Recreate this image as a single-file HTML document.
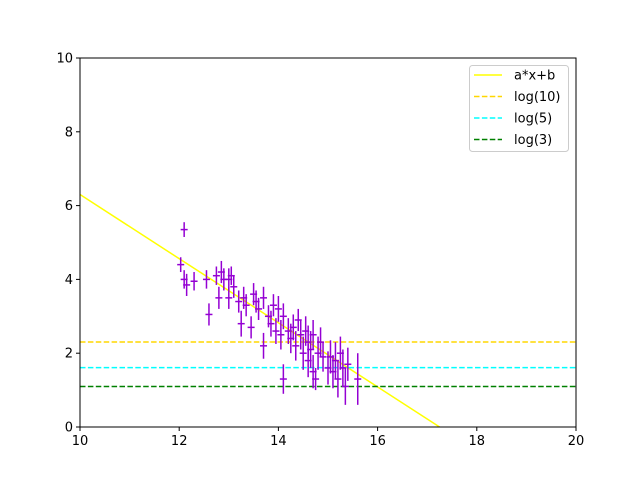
<!DOCTYPE html>
<html><head><meta charset="utf-8"><style>
html,body{margin:0;padding:0;background:#fff;width:640px;height:480px;overflow:hidden}
svg{display:block;font-family:"DejaVu Sans","Liberation Sans",sans-serif}
</style></head><body>
<svg id="chart" width="640" height="480" viewBox="0 0 640 480" xmlns="http://www.w3.org/2000/svg">
<rect width="640" height="480" fill="#fff"/>
<g id="plot"></g>
<g id="axes"></g>
<g id="legend"></g>
</svg>
<script>
const xs=[12.03,12.1,12.1,12.15,12.3,12.55,12.6,12.75,12.8,12.85,12.9,13.0,13.0,13.05,13.1,13.2,13.25,13.3,13.35,13.45,13.5,13.55,13.6,13.7,13.7,13.8,13.85,13.9,13.95,14.0,14.05,14.1,14.1,14.2,14.25,14.3,14.35,14.4,14.45,14.5,14.55,14.6,14.6,14.65,14.7,14.7,14.75,14.8,14.85,14.9,15.0,15.05,15.1,15.15,15.2,15.25,15.3,15.35,15.4,15.6];
const ys=[4.4,5.35,4.0,3.85,3.95,4.0,3.05,4.1,3.5,4.2,4.0,3.5,4.0,4.1,3.8,3.4,2.8,3.5,3.3,2.7,3.6,3.4,3.2,2.2,3.5,3.0,2.8,3.3,2.6,3.2,2.5,1.3,3.0,2.6,2.4,2.7,2.2,2.9,2.5,2.0,2.6,2.3,1.8,2.1,1.5,2.5,1.3,2.0,2.3,1.9,1.6,1.9,1.5,1.8,1.3,2.0,1.6,1.1,1.7,1.3];
const errs=[0.2,0.2,0.25,0.3,0.25,0.25,0.3,0.25,0.3,0.3,0.3,0.3,0.3,0.25,0.3,0.3,0.35,0.3,0.3,0.3,0.3,0.3,0.3,0.35,0.3,0.3,0.35,0.3,0.35,0.35,0.4,0.4,0.35,0.35,0.4,0.35,0.4,0.3,0.4,0.45,0.4,0.45,0.45,0.5,0.45,0.4,0.3,0.45,0.4,0.4,0.45,0.45,0.45,0.5,0.5,0.45,0.5,0.5,0.45,0.7];
const fitA=-0.869, fitB=14.99;
const hNames=["log(10)","log(5)","log(3)"];
const hVals=[2.303,1.609,1.099];
const hColors=["#ffd700","#00ffff","#008000"];
const xTicks=[10,12,14,16,18,20];
const yTicks=[0,2,4,6,8,10];
const NS="http://www.w3.org/2000/svg";
const X0=80,X1=576,Y0=427,Y1=58;
const sx=v=>X0+(v-10)/10*(X1-X0);
const sy=v=>Y0-(v-0)/10*(Y0-Y1);
function mk(t,a,p){const e=document.createElementNS(NS,t);for(const k in a)e.setAttribute(k,a[k]);p.appendChild(e);return e;}
const plot=document.getElementById('plot'),axes=document.getElementById('axes'),leg=document.getElementById('legend');
mk('defs',{},plot).innerHTML='<clipPath id="cp"><rect x="80" y="58" width="496" height="369"/></clipPath>';
const g=mk('g',{'clip-path':'url(#cp)'},plot);
let l=mk('line',{x1:sx(10),y1:sy(fitA*10+fitB),x2:sx(20),y2:sy(fitA*20+fitB),stroke:'#ffff00','stroke-width':1.5},g);


hVals.forEach((v,i)=>{
  const h=mk('line',{x1:X0,x2:X1,y1:sy(v),y2:sy(v),stroke:hColors[i],'stroke-width':1.5,'stroke-dasharray':'5.5,2.4'},g);
  
  
});
xs.forEach((x,i)=>{
  const pg=mk('g',{stroke:'#9400d3','stroke-width':1.5},g);
  
  
  mk('line',{x1:sx(x),x2:sx(x),y1:sy(ys[i]-errs[i]),y2:sy(ys[i]+errs[i])},pg);
  mk('line',{x1:sx(x)-3.5,x2:sx(x)+3.5,y1:sy(ys[i]),y2:sy(ys[i])},pg);
});
mk('rect',{x:X0,y:Y1,width:X1-X0,height:Y0-Y1,fill:'none',stroke:'#000','stroke-width':1},axes);
xTicks.forEach(t=>{
  mk('line',{x1:sx(t),x2:sx(t),y1:Y0,y2:Y0+4,stroke:'#000'},axes);
  const tx=mk('text',{x:sx(t),y:Y0+18,'text-anchor':'middle','font-size':13},axes);tx.textContent=t;
  
  
});
yTicks.forEach(t=>{
  mk('line',{x1:X0-4,x2:X0,y1:sy(t),y2:sy(t),stroke:'#000'},axes);
  const tx=mk('text',{x:X0-7,y:sy(t)+4.5,'text-anchor':'end','font-size':13},axes);tx.textContent=t;
  
  
});
mk('rect',{x:469.5,y:65.5,width:99,height:86,rx:3,fill:'#fff',stroke:'#ccc'},leg);
const ln=["a*x+b"].concat(hNames), lc=["#ffff00"].concat(hColors);
ln.forEach((n,i)=>{
  const y=75+i*21.5;
  const e=mk('g',{},leg);
  
  
  const a={x1:474,x2:502,y1:y,y2:y,stroke:lc[i],'stroke-width':1.5};
  if(i>0)a['stroke-dasharray']='5.5,2.4';
  mk('line',a,e);
  const t=mk('text',{x:514,y:y+4.5,'font-size':13},e);t.textContent=n;
});
</script>
</body></html>
